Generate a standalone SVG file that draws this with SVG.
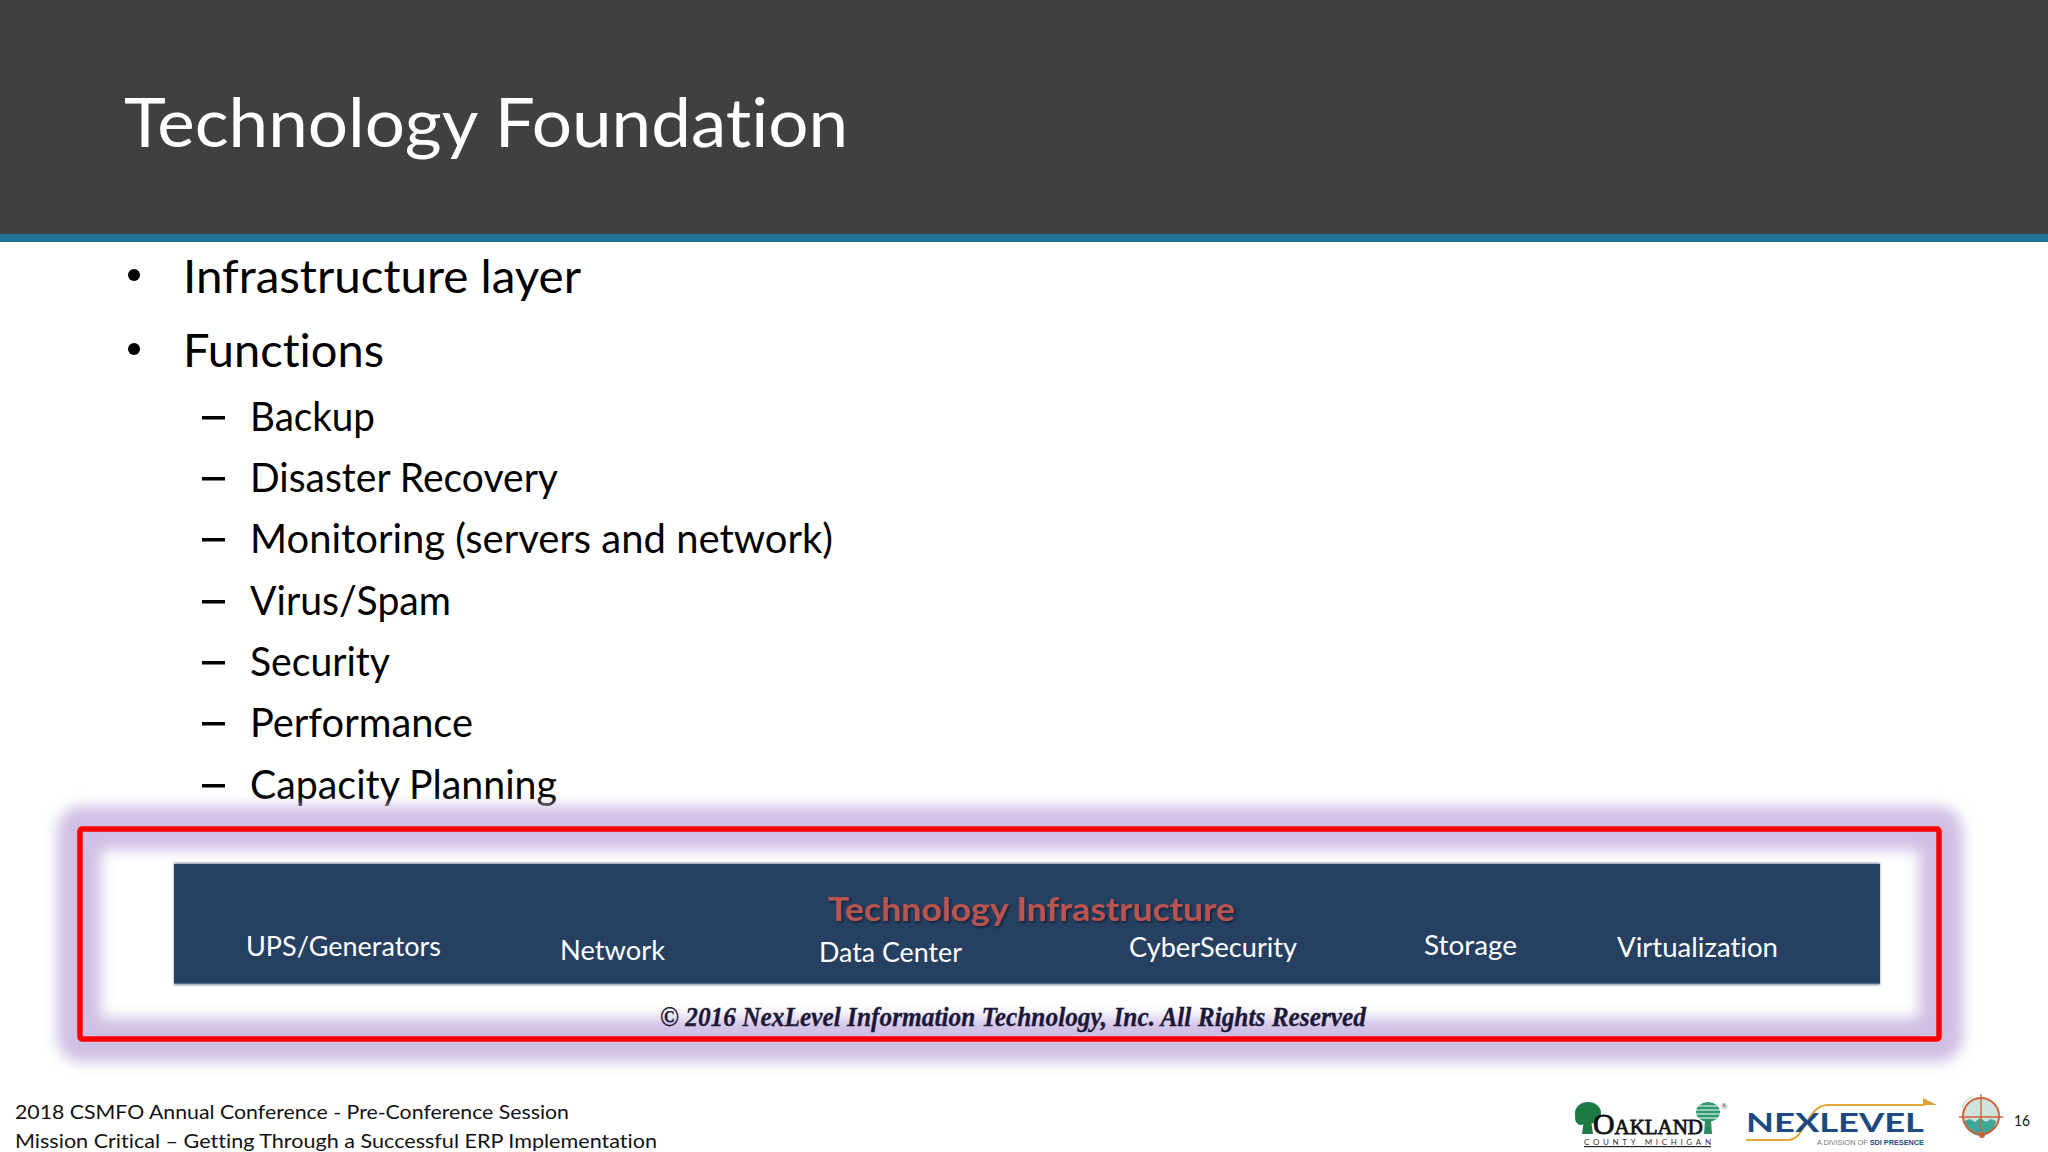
<svg xmlns="http://www.w3.org/2000/svg" width="2048" height="1152" viewBox="0 0 2048 1152">
<style>
text{font-family:"Lato","Carlito","Noto Sans",sans-serif;font-variant-ligatures:none}
.h{font-size:68px;fill:#fff}
.b1{font-size:46px;fill:#000}
.b2{font-size:40px;fill:#000}
.l{font-size:26px;fill:#fff}
.f{font-size:20px;fill:#111}
.c{font-family:"Liberation Serif",serif;font-weight:700;font-style:italic;font-size:27px;fill:#1c1838;stroke:#1c1838;stroke-width:.3}
.o{font-family:"Liberation Serif",serif;fill:#111}
.n{font-family:"Lato",sans-serif;font-weight:700;fill:#1c4a80}
.s{font-family:"Liberation Sans",sans-serif}
</style>
<defs>
<filter id="glow" x="-5%" y="-30%" width="110%" height="160%"><feGaussianBlur stdDeviation="7"/></filter>
<filter id="soft" x="-5%" y="-10%" width="110%" height="120%"><feGaussianBlur stdDeviation="1.2"/></filter>
<filter id="ts" x="-5%" y="-20%" width="110%" height="150%"><feDropShadow dx="1.5" dy="1.5" stdDeviation="1" flood-color="#101a2a" flood-opacity=".8"/></filter>
</defs>
<rect width="2048" height="1152" fill="#fff"/>
<g id="header">
<rect width="2048" height="234" fill="#404040"/>
<rect y="234" width="2048" height="8" fill="#1f7399"/>
<text class="h" x="124" y="147" textLength="724" lengthAdjust="spacingAndGlyphs">Technology Foundation</text>
</g>
<g id="bullets">
<circle cx="134" cy="275" r="6"/>
<text class="b1" x="183" y="293" textLength="398" lengthAdjust="spacingAndGlyphs">Infrastructure layer</text>
<circle cx="134" cy="349" r="6"/>
<text class="b1" x="183" y="366.500" textLength="201" lengthAdjust="spacingAndGlyphs">Functions</text>
<g fill="#000">
<rect x="202" y="416" width="23" height="3.5"/>
<rect x="202" y="477" width="23" height="3.5"/>
<rect x="202" y="538" width="23" height="3.5"/>
<rect x="202" y="600" width="23" height="3.5"/>
<rect x="202" y="661" width="23" height="3.5"/>
<rect x="202" y="722" width="23" height="3.5"/>
<rect x="202" y="784" width="23" height="3.5"/>
</g>
<text class="b2" x="250" y="431" textLength="125" lengthAdjust="spacingAndGlyphs">Backup</text>
<text class="b2" x="250" y="492" textLength="308" lengthAdjust="spacingAndGlyphs">Disaster Recovery</text>
<text class="b2" x="250" y="553" textLength="583" lengthAdjust="spacingAndGlyphs">Monitoring (servers and network)</text>
<text class="b2" x="250" y="614.500" textLength="201" lengthAdjust="spacingAndGlyphs">Virus/Spam</text>
<text class="b2" x="250" y="676" textLength="140" lengthAdjust="spacingAndGlyphs">Security</text>
<text class="b2" x="250" y="737" textLength="223" lengthAdjust="spacingAndGlyphs">Performance</text>
<text class="b2" x="250" y="799" textLength="307" lengthAdjust="spacingAndGlyphs">Capacity Planning</text>
</g>
<g id="infrastructure">
<rect x="79" y="828" width="1862" height="212" rx="3" fill="none" stroke="#cfbfe4" stroke-width="44" filter="url(#glow)"/>
<rect x="174" y="863" width="1706" height="122" fill="#7b8aa0" filter="url(#soft)"/>
<rect x="174" y="864" width="1706" height="119.500" fill="#264062"/>
<rect x="80" y="829" width="1859" height="210" rx="2" fill="none" stroke="#ff0000" stroke-width="5.500"/>
<text x="828" y="921" font-size="33" font-weight="700" fill="#b85450" filter="url(#ts)" textLength="407" lengthAdjust="spacingAndGlyphs">Technology Infrastructure</text>
<text class="l" x="246" y="956" textLength="195" lengthAdjust="spacingAndGlyphs">UPS/Generators</text>
<text class="l" x="560" y="960" textLength="105" lengthAdjust="spacingAndGlyphs">Network</text>
<text class="l" x="819" y="962" textLength="143" lengthAdjust="spacingAndGlyphs">Data Center</text>
<text class="l" x="1129" y="957" textLength="168" lengthAdjust="spacingAndGlyphs">CyberSecurity</text>
<text class="l" x="1424" y="955" textLength="93" lengthAdjust="spacingAndGlyphs">Storage</text>
<text class="l" x="1617" y="957" textLength="161" lengthAdjust="spacingAndGlyphs">Virtualization</text>
<text class="c" x="660" y="1026" textLength="706" lengthAdjust="spacingAndGlyphs">© 2016 NexLevel Information Technology, Inc. All Rights Reserved</text>
</g>
<g id="footer">
<text class="f" x="15" y="1118.500" textLength="554" lengthAdjust="spacingAndGlyphs">2018 CSMFO Annual Conference - Pre-Conference Session</text>
<text class="f" x="15" y="1147.500" textLength="642" lengthAdjust="spacingAndGlyphs">Mission Critical – Getting Through a Successful ERP Implementation</text>
<text x="2014" y="1126" font-size="16" fill="#111" textLength="16" lengthAdjust="spacingAndGlyphs">16</text>
</g>
<g id="logo-oakland">
<ellipse cx="1588" cy="1113" rx="13" ry="11" fill="#1c7a45"/>
<ellipse cx="1581" cy="1118" rx="6" ry="7" fill="#1c7a45"/>
<path d="M1584 1120h7l2 14h-11z" fill="#1c7a45"/>
<ellipse cx="1708" cy="1112" rx="12" ry="10" fill="#2f9a70"/>
<g stroke="#fff" stroke-width="1"><path d="M1694 1106h28M1694 1110h28M1694 1114h28M1694 1118h28"/></g>
<path d="M1705 1120h6l1 14h-8z" fill="#2f8a60"/>
<text class="o" x="1593" y="1134" font-size="21" stroke="#111" stroke-width=".8" textLength="110" lengthAdjust="spacingAndGlyphs"><tspan font-size="30">O</tspan>AKLAND</text>
<text x="1584" y="1144.500" font-size="8" fill="#333" textLength="127">COUNTY MICHIGAN</text>
<rect x="1584" y="1146" width="127" height="1.200" fill="#222"/>
<text x="1721" y="1109" font-size="8" fill="#555">®</text>
</g>
<g id="logo-nexlevel">
<path d="M1746 1140H1788C1806 1140 1806 1105 1828 1105H1925" fill="none" stroke="#e0a83a" stroke-width="2"/>
<path d="M1923 1098L1937 1105H1923Z" fill="#e0a030"/>
<text class="n" x="1746" y="1132" font-size="26.500" textLength="178" lengthAdjust="spacingAndGlyphs">NEXLEVEL</text>
<text class="s" x="1817" y="1145" font-size="6.500" fill="#777" textLength="107" lengthAdjust="spacingAndGlyphs">A DIVISION OF <tspan font-weight="700" fill="#1c4a80">SDI PRESENCE</tspan></text>
</g>
<g id="logo-seal">
<circle cx="1981" cy="1116" r="18" fill="#cfe2de"/>
<path d="M1964 1121l6-2 5 3 5-4 6 4 5-3 5 2c-1 10-9 15-15 15s-16-5-17-15z" fill="#3da89a"/>
<circle cx="1981" cy="1116" r="18" fill="none" stroke="#d0623a" stroke-width="2"/>
<path d="M1981 1094V1138M1959 1117H2003" stroke="#d0623a" stroke-width="1.300"/>
<circle cx="1982" cy="1135" r="3" fill="#d0623a"/>
<path d="M1962 1108A21 21 0 0 1 1972 1097" fill="none" stroke="#9cc8a8" stroke-width="1"/>
</g>
</svg>
